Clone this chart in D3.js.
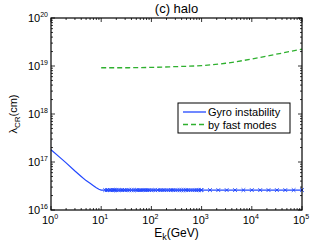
<!DOCTYPE html>
<html lang="en">
<head>
<meta charset="UTF-8">
<title>halo</title>
<style>
  body { margin: 0; background: #fff; }
  svg { display: block; font-family: "Liberation Sans", Arial, sans-serif; }
</style>
</head>
<body>
<script src="https://d3js.org/d3.v7.min.js"></script>
<script>
    const width = 332, height = 242;

    // data
    const gyroCurveE = [1, 1.5, 2, 3, 4, 5, 6, 7, 8, 9, 10, 11.5];
    const gyroCurveL = [1.8e17, 1.25e17, 9.6e16, 6.5e16, 5.0e16, 4.1e16, 3.6e16, 3.2e16, 2.9e16, 2.7e16, 2.6e16, 2.6e16];
    const gyroMarkE = [12, 13, 14, 15, 16, 17, 18, 19, 20, 22, 24, 26, 28, 30, 33, 36, 40, 44, 48, 52, 57, 62, 68, 75,
        82, 90, 100, 110, 120, 135, 150, 165, 180, 200, 220, 245, 270, 300, 330, 365, 400, 440, 490, 540, 600, 660,
        730, 800, 880, 970, 1000, 1470, 2150, 3160, 4640, 6810, 10000, 14700, 21500, 31600, 46400, 68100, 100000];
    const gyroMarkL = 2.6e16;
    const fastE = [10, 30, 100, 300, 1000, 3000, 10000, 30000, 100000];
    const fastL = [9.2e18, 9.2e18, 9.35e18, 9.7e18, 1.02e19, 1.14e19, 1.4e19, 1.75e19, 2.25e19];
    const xTicks = [1, 10, 100, 1000, 10000, 100000];
    const yTicks = [1e16, 1e17, 1e18, 1e19, 1e20];
    const legendNames = ["Gyro instability", "by fast modes"];

    const blue = "#2248ff", green = "#2fb02f";
    const m = { left: 51, right: 302, top: 18, bottom: 210 };

    const x = d3.scaleLog().domain([1, 1e5]).range([m.left, m.right]);
    const y = d3.scaleLog().domain([1e16, 1e20]).range([m.bottom, m.top]);

    const svg = d3.select("body").append("svg")
        .attr("width", width).attr("height", height);

    // minor ticks
    const minorX = [], minorY = [];
    for (let d = 0; d < 5; d++) for (let k = 2; k <= 9; k++) minorX.push(k * Math.pow(10, d));
    for (let d = 16; d < 20; d++) for (let k = 2; k <= 9; k++) minorY.push(k * Math.pow(10, d));

    const ticks = svg.append("g").attr("stroke", "#000").attr("stroke-width", 0.8);
    // x ticks, bottom and top
    ticks.selectAll(".xt").data(xTicks.concat(minorX)).join("line")
        .attr("x1", d => x(d)).attr("x2", d => x(d))
        .attr("y1", m.bottom).attr("y2", d => m.bottom - (xTicks.includes(d) ? 4 : 2));
    ticks.selectAll(".xt2").data(xTicks.concat(minorX)).join("line")
        .attr("x1", d => x(d)).attr("x2", d => x(d))
        .attr("y1", m.top).attr("y2", d => m.top + (xTicks.includes(d) ? 4 : 2));
    ticks.selectAll(".yt").data(yTicks.concat(minorY)).join("line")
        .attr("y1", d => y(d)).attr("y2", d => y(d))
        .attr("x1", m.left).attr("x2", d => m.left + (yTicks.includes(d) ? 4 : 2));
    ticks.selectAll(".yt2").data(yTicks.concat(minorY)).join("line")
        .attr("y1", d => y(d)).attr("y2", d => y(d))
        .attr("x1", m.right).attr("x2", d => m.right - (yTicks.includes(d) ? 4 : 2));

    // curves
    const line = d3.line().x(d => x(d[0])).y(d => y(d[1]));
    svg.append("path")
        .datum(gyroCurveE.map((e, i) => [e, gyroCurveL[i]]))
        .attr("fill", "none").attr("stroke", blue).attr("stroke-width", 1.2)
        .attr("d", line);
    svg.append("path")
        .datum([[gyroMarkE[0], gyroMarkL], [gyroMarkE[gyroMarkE.length - 1], gyroMarkL]])
        .attr("fill", "none").attr("stroke", blue).attr("stroke-width", 1.2)
        .attr("d", line);
    svg.append("g").attr("stroke", blue).attr("stroke-width", 1)
        .selectAll("path").data(gyroMarkE).join("path")
        .attr("d", d => {
            const cx = x(d), cy = y(gyroMarkL), r = 1.8;
            return `M${cx - r},${cy - r}L${cx + r},${cy + r}M${cx - r},${cy + r}L${cx + r},${cy - r}`;
        });
    svg.append("path")
        .datum(fastE.map((e, i) => [e, fastL[i]]))
        .attr("fill", "none").attr("stroke", green).attr("stroke-width", 1.3)
        .attr("stroke-dasharray", "5,3")
        .attr("d", line.curve(d3.curveMonotoneX));

    // box
    svg.append("rect")
        .attr("x", m.left).attr("y", m.top)
        .attr("width", m.right - m.left).attr("height", m.bottom - m.top)
        .attr("fill", "none").attr("stroke", "#000").attr("stroke-width", 1.2);

    // tick labels
    const expOf = d => Math.round(Math.log10(d));
    svg.append("g").attr("font-size", 11).attr("text-anchor", "middle")
        .selectAll("text").data(xTicks).join("text")
        .attr("x", d => x(d) - 1).attr("y", m.bottom + 14)
        .call(t => t.append("tspan").text("10"))
        .call(t => t.append("tspan").attr("font-size", 7).attr("dy", -5).text(d => expOf(d)));
    svg.append("g").attr("font-size", 11).attr("text-anchor", "end")
        .selectAll("text").data(yTicks).join("text")
        .attr("x", m.left - 3).attr("y", d => y(d) + 4)
        .call(t => t.append("tspan").text("10"))
        .call(t => t.append("tspan").attr("font-size", 7).attr("dy", -5).text(d => expOf(d)));

    // title and axis labels
    svg.append("text").attr("x", (m.left + m.right) / 2).attr("y", 13)
        .attr("text-anchor", "middle").attr("font-size", 13).text("(c) halo");
    svg.append("text").attr("x", (m.left + m.right) / 2).attr("y", 237)
        .attr("text-anchor", "middle").attr("font-size", 12)
        .call(t => t.append("tspan").text("E"))
        .call(t => t.append("tspan").attr("font-size", 9).attr("dy", 3).text("k"))
        .call(t => t.append("tspan").attr("dy", -3).text("(GeV)"));
    svg.append("text")
        .attr("transform", `translate(17,${(m.top + m.bottom) / 2}) rotate(-90)`)
        .attr("text-anchor", "middle").attr("font-size", 11)
        .call(t => t.append("tspan").text("λ"))
        .call(t => t.append("tspan").attr("font-size", 8).attr("dy", 3).text("CR"))
        .call(t => t.append("tspan").attr("dy", -3).text("(cm)"));

    // legend
    const lg = svg.append("g").attr("transform", "translate(178,103)");
    lg.append("rect").attr("width", 112).attr("height", 30)
        .attr("fill", "#fff").attr("stroke", "#000").attr("stroke-width", 1);
    legendNames.forEach((name, i) => {
        const ly = 9 + i * 12.5;
        lg.append("line").attr("x1", 5).attr("x2", 28).attr("y1", ly).attr("y2", ly)
            .attr("stroke", i === 0 ? blue : green).attr("stroke-width", 1.3)
            .attr("stroke-dasharray", i === 0 ? null : "5,3");
        lg.append("text").attr("x", 30).attr("y", ly + 4).attr("font-size", 11).text(name);
    });
</script>
</body>
</html>
